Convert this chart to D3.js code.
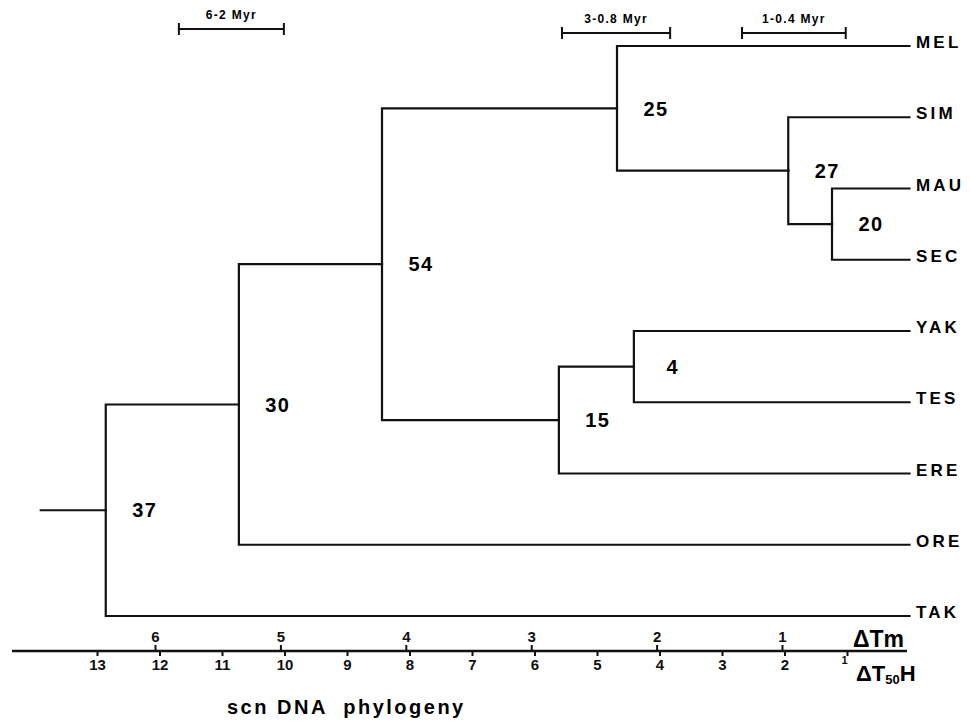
<!DOCTYPE html>
<html>
<head>
<meta charset="utf-8">
<script src="https://cdn.jsdelivr.net/npm/d3@7.9.0/dist/d3.min.js"></script>
<style>
  body { margin: 0; background: #fff; }
  svg { display: block; font-family: 'Liberation Sans', Arial, sans-serif; font-weight: bold; }
  .axis .tick text { font-size: 15px; font-weight: bold; fill: #111; }
  .axis .tick text.small { font-size: 11px; }
</style>
</head>
<body>
<div id="chart"></div>
<script>
// taxa, top to bottom
const taxa = ['MEL', 'SIM', 'MAU', 'SEC', 'YAK', 'TES', 'ERE', 'ORE', 'TAK'];

// tree topology (child -> parent), node heights on the delta T50H scale
const nodeIds = ['r', 'a', 'b', 'c', 'd', 'e', 'f', 'g', ...taxa];
const parentIds = ['', 'r', 'a', 'b', 'c', 'd', 'b', 'f',
  'c', 'd', 'e', 'e', 'g', 'g', 'f', 'a', 'r'];
const nodeHeights = [12.86, 10.73, 8.44, 4.68, 1.94, 1.24, 5.61, 4.41,
  0, 0, 0, 0, 0, 0, 0, 0, 0];
const nodeLabels = [37, 30, 54, 25, 27, 20, 15, 4];
const rootStub = 13.9;

// axis ticks
const tmTicks = [1, 2, 3, 4, 5, 6];
const t50Ticks = [1, 2, 3, 4, 5, 6, 7, 8, 9, 10, 11, 12, 13];

// time calibration bars (in delta T50H units)
const barLabels = ['6-2 Myr', '3-0.8 Myr', '1-0.4 Myr'];
const barStarts = [11.69, 5.56, 2.68];
const barEnds = [10.01, 3.83, 1.02];

const width = 971;
const height = 728;

const svg = d3
  .select('#chart')
  .append('svg')
  .attr('width', width)
  .attr('height', height)
  .attr('viewBox', `0 0 ${width} ${height}`);

const xScale = d3.scaleLinear().domain([0, 13]).range([909.5, 97]);
const xTm = d3.scaleLinear().domain([0, 6]).range([907.4, 155]);
const yScale = d3.scalePoint().domain(taxa).range([46, 616]);

// build hierarchy
const table = nodeIds.map((id, i) => ({
  id,
  parent: parentIds[i] || null,
  h: nodeHeights[i],
  label: nodeLabels[i],
}));
const root = d3
  .stratify()
  .id((d) => d.id)
  .parentId((d) => d.parent)(table);

const leafIndex = (n) => d3.min(n.leaves(), (l) => taxa.indexOf(l.id));
root.sort((a, b) => leafIndex(a) - leafIndex(b));

root.eachAfter((n) => {
  n.px = xScale(n.data.h);
  n.py = n.children ? d3.mean(n.children, (c) => c.py) : yScale(n.id);
});

const tree = svg.append('g').attr('class', 'tree')
  .attr('fill', 'none')
  .attr('stroke', '#111')
  .attr('stroke-width', 2.2)
  .attr('stroke-linecap', 'square');

tree
  .selectAll('path.link')
  .data(root.links())
  .join('path')
  .attr('class', 'link')
  .attr('d', (l) => `M${l.source.px},${l.source.py}V${l.target.py}H${l.target.px}`);

tree
  .append('path')
  .attr('d', `M${xScale(rootStub)},${root.py}H${root.px}`);

// support values
svg
  .append('g')
  .selectAll('text')
  .data(root.descendants().filter((n) => n.children))
  .join('text')
  .attr('x', (n) => n.px + 39)
  .attr('y', (n) => n.py)
  .attr('dy', '0.36em')
  .attr('text-anchor', 'middle')
  .attr('font-size', 20)
  .attr('letter-spacing', 1.5)
  .text((n) => n.data.label);

// taxon names
svg
  .append('g')
  .selectAll('text')
  .data(root.leaves())
  .join('text')
  .attr('x', 916)
  .attr('y', (n) => n.py - 4)
  .attr('dy', '0.36em')
  .attr('font-size', 17)
  .attr('letter-spacing', 3.2)
  .text((n) => n.id);

// calibration bars
const bars = svg
  .append('g')
  .selectAll('g')
  .data(barLabels)
  .join('g')
  .attr('transform', (d, i) => `translate(0, ${i === 0 ? 29 : 33})`);

bars
  .append('path')
  .attr('stroke', '#111')
  .attr('stroke-width', 2)
  .attr('fill', 'none')
  .attr('d', (d, i) => {
    const x0 = xScale(barStarts[i]);
    const x1 = xScale(barEnds[i]);
    return `M${x0},-6V6M${x0},0H${x1}M${x1},-6V6`;
  });

bars
  .append('text')
  .attr('x', (d, i) => (xScale(barStarts[i]) + xScale(barEnds[i])) / 2)
  .attr('y', -10)
  .attr('text-anchor', 'middle')
  .attr('font-size', 12)
  .attr('letter-spacing', 1.3)
  .text((d) => d);

// double axis
const axisY = 651;
const axis = svg.append('g').attr('class', 'axis');

axis
  .append('line')
  .attr('x1', 12)
  .attr('x2', 907)
  .attr('y1', axisY)
  .attr('y2', axisY)
  .attr('stroke', '#111')
  .attr('stroke-width', 2.4);

const tmAxis = d3
  .axisTop(xTm)
  .tickValues(tmTicks)
  .tickFormat(d3.format('d'))
  .tickSize(6)
  .tickPadding(3);
const t50Axis = d3
  .axisBottom(xScale)
  .tickValues(t50Ticks)
  .tickFormat(d3.format('d'))
  .tickSize(5)
  .tickPadding(3);

axis
  .append('g')
  .attr('transform', `translate(0, ${axisY})`)
  .call(tmAxis)
  .call((g) => g.select('.domain').remove());

const bottomAxis = axis
  .append('g')
  .attr('transform', `translate(0, ${axisY})`)
  .call(t50Axis)
  .call((g) => g.select('.domain').remove());

axis
  .selectAll('.tick line')
  .attr('stroke', '#111')
  .attr('stroke-width', 2);

bottomAxis
  .selectAll('.tick')
  .filter((d) => d === 1)
  .select('text')
  .attr('class', 'small')
  .attr('dx', -3)
  .attr('dy', '0.45em');

// axis names
svg
  .append('text')
  .attr('x', 853)
  .attr('y', 647)
  .attr('font-size', 23)
  .text('\u0394Tm');

const t50 = svg.append('text').attr('x', 856).attr('y', 681).attr('font-size', 22);
t50.append('tspan').text('\u0394T');
t50.append('tspan').attr('font-size', 13).attr('dy', 3).text('50');
t50.append('tspan').attr('dy', -3).text('H');

// caption
svg
  .append('text')
  .attr('x', 227)
  .attr('y', 714)
  .attr('font-size', 20)
  .attr('letter-spacing', 2.5)
  .attr('xml:space', 'preserve')
  .style('white-space', 'pre')
  .text('scn DNA  phylogeny');
</script>
</body>
</html>
